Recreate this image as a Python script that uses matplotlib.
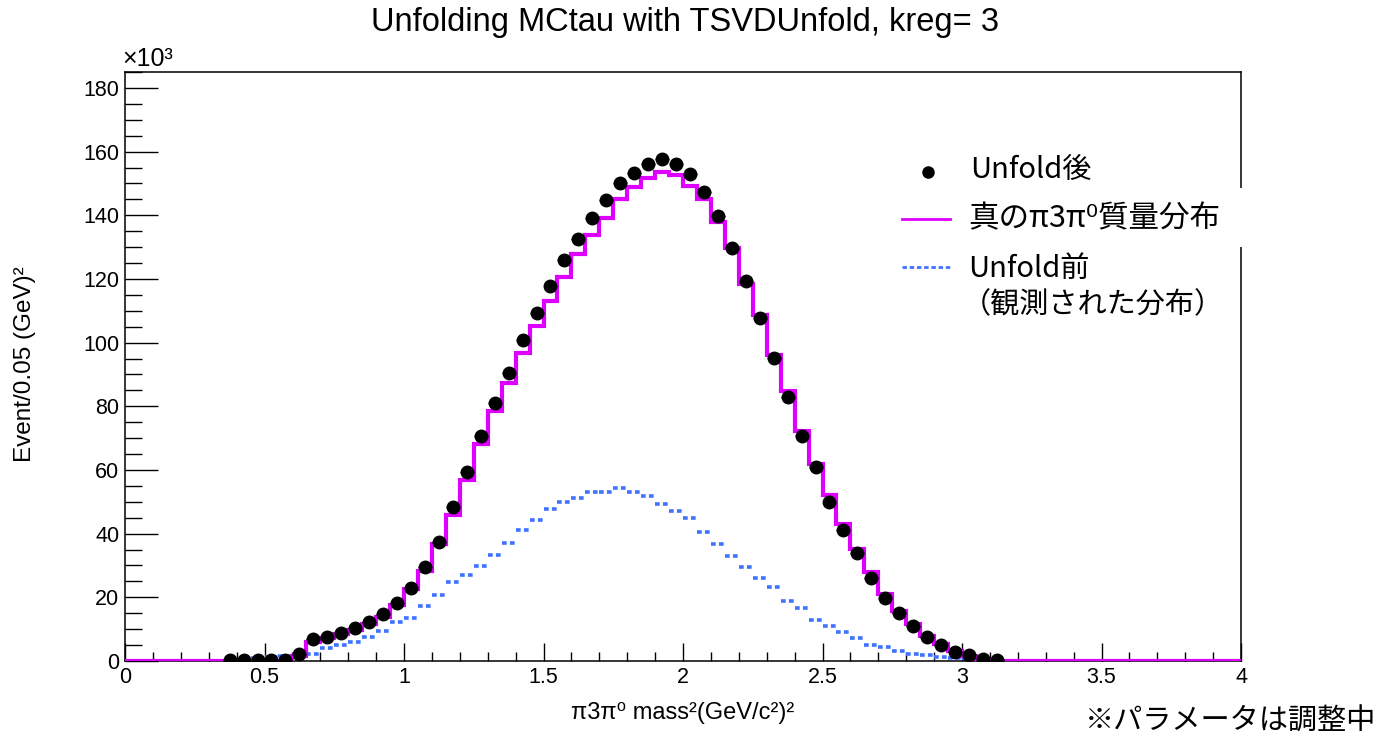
import numpy as np
import matplotlib
matplotlib.use("Agg")
import matplotlib.pyplot as plt
from matplotlib.lines import Line2D
from matplotlib.patches import Rectangle
from matplotlib.ticker import MultipleLocator, FormatStrFormatter

# binning: 80 bins of 0.05 from 0 to 4
edges = np.linspace(0, 4, 81)

# values in units of 10^3 events
# Unfold後 (black points), bins 7..62
unfold_start = 7
unfold_vals = [0.3, 0.3, 0.3, 0.3, 0.4, 2.3, 6.8, 7.6, 8.9, 10.3,
               12.3, 14.9, 18.3, 23.0, 29.4, 37.4, 48.3, 59.3, 70.6, 81.0,
               90.4, 100.8, 109.3, 117.7, 125.9, 132.5, 139.1, 144.7, 150.1, 153.2,
               156.0, 157.6, 156.2, 152.9, 147.3, 139.8, 129.6, 119.2, 107.7, 95.3,
               83.0, 70.8, 60.8, 49.9, 41.1, 33.8, 26.2, 19.9, 15.0, 10.9,
               7.6, 4.9, 2.9, 1.9, 0.6, 0.2]

# true pi3pi0 mass distribution (magenta), bins 12..61
true_start = 12
true_vals = [1.7, 5.9, 7.2, 8.5, 9.7, 11.6, 13.8, 17.6, 22.6, 28.3,
             36.7, 45.8, 56.8, 68.1, 78.5, 87.4, 96.7, 105.2, 113.0, 120.6,
             127.8, 133.8, 139.1, 145.0, 148.8, 151.6, 153.5, 152.6, 149.1, 145.0,
             137.8, 129.6, 118.4, 108.6, 96.1, 84.7, 72.1, 61.9, 52.0, 43.0,
             35.2, 27.9, 21.0, 15.8, 11.6, 7.9, 5.2, 3.1, 1.6, 0.3]

# Unfold前 / observed (blue), bins 9..61
meas_start = 9
meas_vals = [1.0, 1.3, 1.5, 1.8, 2.3, 4.0, 5.1, 6.0, 7.5, 9.4,
             12.2, 13.6, 17.3, 20.7, 24.9, 27.0, 29.7, 33.3, 37.2, 41.1,
             44.3, 47.7, 50.0, 51.1, 53.0, 53.0, 54.2, 53.2, 51.9, 49.2,
             47.2, 45.0, 40.6, 36.9, 33.0, 29.5, 26.2, 23.3, 18.9, 16.5,
             13.0, 11.1, 9.2, 7.3, 5.0, 4.3, 3.0, 2.3, 1.8, 1.2,
             0.8, 0.4, 0.2]

title = "Unfolding MCtau with TSVDUnfold, kreg= 3"
xlabel = "π3π⁰ mass²(GeV/c²)²"
ylabel = "Event/0.05 (GeV)²"

MAGENTA = "#dd00ff"
BLUE = "#3f72ff"
LAT = ["Liberation Sans", "DejaVu Sans"]
JP = ["Noto Sans CJK JP", "DejaVu Sans"]

W, H = 1386, 744
fig = plt.figure(figsize=(W / 100, H / 100), dpi=100)
ax = fig.add_axes([125 / W, 1 - 661 / H, (1241 - 125) / W, (661 - 72) / H])

true_full = np.zeros(80)
true_full[true_start:true_start + len(true_vals)] = true_vals
ax.stairs(true_full, edges, baseline=None, color=MAGENTA, lw=3, zorder=3)

mi = np.arange(meas_start, meas_start + len(meas_vals))
ax.hlines(meas_vals, edges[mi], edges[mi + 1], colors=BLUE, lw=2.6,
          linestyles=(0, (1.3, 0.9)), zorder=2)

ui = np.arange(unfold_start, unfold_start + len(unfold_vals))
centers = 0.5 * (edges[ui] + edges[ui + 1])
ax.errorbar(centers, unfold_vals, xerr=0.025, fmt="o", color="black",
            ms=9, elinewidth=1, capsize=0, zorder=4)

ax.set_xlim(0, 4)
ax.set_ylim(0, 185)
ax.xaxis.set_major_locator(MultipleLocator(0.5))
ax.xaxis.set_minor_locator(MultipleLocator(0.1))
ax.yaxis.set_major_locator(MultipleLocator(20))
ax.yaxis.set_minor_locator(MultipleLocator(5))
ax.xaxis.set_major_formatter(FormatStrFormatter("%g"))
ax.tick_params(axis="x", which="major", direction="in", length=13, width=1, pad=4)
ax.tick_params(axis="x", which="minor", direction="in", length=6.5, width=1)
ax.tick_params(axis="y", which="major", direction="in", length=24, width=1, pad=4)
ax.tick_params(axis="y", which="minor", direction="in", length=12, width=1)
for lab in ax.get_xticklabels() + ax.get_yticklabels():
    lab.set_family(LAT)
    lab.set_fontsize(15.5)
for s in ax.spines.values():
    s.set_linewidth(1.1)

fig.text(685 / W, 1 - 22 / H, title, ha="center", va="center", fontsize=23.5, family=LAT)
fig.text(122 / W, 1 - 59 / H, "×10³", ha="left", va="center", fontsize=18, family=LAT)
fig.text(683 / W, 1 - 713 / H, xlabel, ha="center", va="center", fontsize=17, family=LAT)
fig.text(25 / W, 1 - 364 / H, ylabel, ha="center", va="center", rotation=90,
         fontsize=17.5, family=LAT)

# legend drawn by hand
fig.add_artist(Line2D([928 / W], [1 - 172 / H], marker="o", ms=8, color="black",
                      transform=fig.transFigure))
fig.add_artist(Line2D([902 / W, 950 / W], [1 - 219 / H] * 2, color=MAGENTA, lw=2,
                      transform=fig.transFigure))
fig.add_artist(Line2D([902 / W, 950 / W], [1 - 267 / H] * 2, color=BLUE, lw=2,
                      linestyle=(0, (1.6, 1.0)), transform=fig.transFigure))
fig.add_artist(Rectangle((1232 / W, 1 - 247 / H), 20 / W, 59 / H, facecolor="white",
                         edgecolor="none", transform=fig.transFigure, zorder=10))
fig.text(970 / W, 1 - 170 / H, "Unfold後", va="center", fontsize=21, family=JP)
fig.text(968 / W, 1 - 219 / H, "真のπ3π⁰質量分布", va="center", fontsize=22, family=JP)
fig.text(968 / W, 1 - 269 / H, "Unfold前", va="center", fontsize=21, family=JP)
fig.text(962 / W, 1 - 305 / H, "（観測された分布）", va="center", fontsize=21, family=JP)
fig.text(1085 / W, 1 - 722 / H, "※パラメータは調整中", va="center", fontsize=21, family=JP)

fig.savefig("out.png", dpi=100)
